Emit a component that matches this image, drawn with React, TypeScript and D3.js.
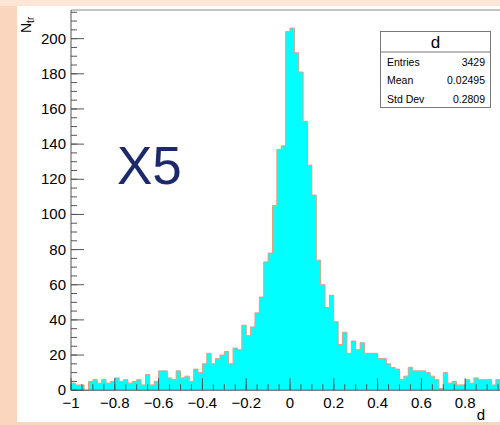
import React from 'react';
import * as d3 from 'd3';

const binCounts: number[] = [
  4, 3, 3, 0, 5, 6, 4, 6, 4, 5,
  7, 5, 6, 4, 5, 6, 3, 9, 3, 5,
  11, 11, 7, 6, 11, 7, 8, 5, 12, 10,
  15, 21, 15, 18, 20, 22, 15, 24, 23, 37,
  31, 36, 44, 53, 73, 78, 105, 137, 139, 204,
  206, 192, 181, 153, 128, 111, 74, 60, 47, 54,
  39, 26, 33, 21, 28, 23, 27, 21, 21, 21,
  18, 18, 15, 13, 12, 6, 8, 13, 11, 11,
  11, 10, 8, 6, 1, 10, 4, 5, 3, 3,
  6, 4, 7, 6, 6, 6, 3, 6, 4, 5,
];
const xMin = -1;
const xMax = 1;
const xTickValues: number[] = [-1, -0.8, -0.6, -0.4, -0.2, 0, 0.2, 0.4, 0.6, 0.8];
const xTickLabels: string[] = ['\u22121', '\u22120.8', '\u22120.6', '\u22120.4', '\u22120.2', '0', '0.2', '0.4', '0.6', '0.8'];
const yTickValues: number[] = [0, 20, 40, 60, 80, 100, 120, 140, 160, 180, 200];
const statsLabels: string[] = ['Entries', 'Mean', 'Std Dev'];
const statsValues: string[] = ['3429', '0.02495', '0.2809'];
const histName = 'd';
const xTitle = 'd';
const yTitle = 'N';
const yTitleSub = 'tr';
const bigLabel = 'X5';

export default function App() {
  const W = 500, H = 425;
  const x = d3.scaleLinear().domain([xMin, xMax]).range([71, 509]);
  const yMaxVal = d3.max(binCounts)! * 1.05;
  const y = d3.scaleLinear().domain([0, yMaxVal]).range([390.2, 10]);
  const nb = binCounts.length;
  const bw = (xMax - xMin) / nb;
  const pts: [number, number][] = binCounts.map((c, i) => [xMin + i * bw, c]);
  pts.push([xMax, binCounts[nb - 1]]);
  const area = d3.area<[number, number]>()
    .x(d => x(d[0])).y0(y(0)).y1(d => y(d[1])).curve(d3.curveStepAfter);
  const line = d3.line<[number, number]>()
    .x(d => x(d[0])).y(d => y(d[1])).curve(d3.curveStepAfter);
  const outlineD = `M${x(xMin)},${y(0)}L${x(xMin)},${y(binCounts[0])}` + line(pts)!.replace(/^M[^L]*/, '') + `L${x(xMax)},${y(0)}`;

  const xMinor = d3.range(-1, 1.0001, 0.05);
  const yMinor = d3.range(0, yMaxVal, 5);
  const font = 'Liberation Sans, Arial, Helvetica, sans-serif';
  const axisCol = '#555';

  return (
    <svg width={W} height={H} style={{ position: 'absolute', left: 0, top: 0 }} fontFamily={font}>
      <rect x={0} y={0} width={W} height={H} fill="#f9d6bd" />
      <rect x={0} y={0} width={W} height={6} fill="#fde6d6" />
      <rect x={17} y={6} width={W - 17} height={416} fill="#ffffff" />
      <defs>
        <clipPath id="plotclip"><rect x={71} y={9} width={438} height={383} /></clipPath>
      </defs>
      <g clipPath="url(#plotclip)">
        <path d={area(pts)!} fill="#00ffff" />
        <path d={outlineD} fill="none" stroke="#e0a080" strokeWidth={1} />
      </g>
      {/* frame */}
      <line x1={71} x2={509} y1={10} y2={10} stroke="#888" strokeWidth={1.2} />
      <line x1={71} x2={71} y1={10} y2={390.2} stroke={axisCol} strokeWidth={1} />
      <line x1={71} x2={509} y1={390.2} y2={390.2} stroke={axisCol} strokeWidth={1} />
      {/* x ticks */}
      {xMinor.map((v, i) => (
        <line key={'xm' + i} x1={x(v)} x2={x(v)} y1={390.2} y2={390.2 - 6} stroke={axisCol} strokeWidth={1} />
      ))}
      {xTickValues.map((v, i) => (
        <line key={'xM' + i} x1={x(v)} x2={x(v)} y1={390.2} y2={390.2 - 12} stroke={axisCol} strokeWidth={1} />
      ))}
      {xTickValues.map((v, i) => (
        <text key={'xl' + i} x={x(v)} y={407.5} textAnchor="middle" fontSize={15} fill="#000">{xTickLabels[i]}</text>
      ))}
      {/* y ticks */}
      {yMinor.map((v, i) => (
        <line key={'ym' + i} x1={71} x2={77} y1={y(v)} y2={y(v)} stroke={axisCol} strokeWidth={1} />
      ))}
      {yTickValues.map((v, i) => (
        <line key={'yM' + i} x1={71} x2={84} y1={y(v)} y2={y(v)} stroke={axisCol} strokeWidth={1} />
      ))}
      {yTickValues.map((v, i) => (
        <text key={'yl' + i} x={66} y={y(v) + 5} textAnchor="end" fontSize={15} fill="#000">{String(v)}</text>
      ))}
      {/* axis titles */}
      <text x={481} y={420} textAnchor="middle" fontSize={15} fill="#000">{xTitle}</text>
      <g transform="translate(31,33) rotate(-90)">
        <text x={0} y={0} fontSize={14} fill="#000">{yTitle}<tspan fontSize={10} dy={3}>{yTitleSub}</tspan></text>
      </g>
      {/* big label */}
      <text x={117} y={184} fontSize={53} fill="#1c2a6b">{bigLabel}</text>
      {/* stats box */}
      <rect x={380.5} y={31.5} width={110} height={76} fill="#fff" stroke="#777" strokeWidth={1} />
      <line x1={380.5} x2={490.5} y1={52} y2={52} stroke="#777" strokeWidth={1} />
      <text x={435.5} y={47.5} textAnchor="middle" fontSize={17} fill="#000">{histName}</text>
      {statsLabels.map((s, i) => (
        <text key={'sl' + i} x={387} y={65.5 + i * 18.5} fontSize={10.5} fill="#000">{s}</text>
      ))}
      {statsValues.map((s, i) => (
        <text key={'sv' + i} x={485} y={65.5 + i * 18.5} textAnchor="end" fontSize={10.5} fill="#000">{s}</text>
      ))}
    </svg>
  );
}
